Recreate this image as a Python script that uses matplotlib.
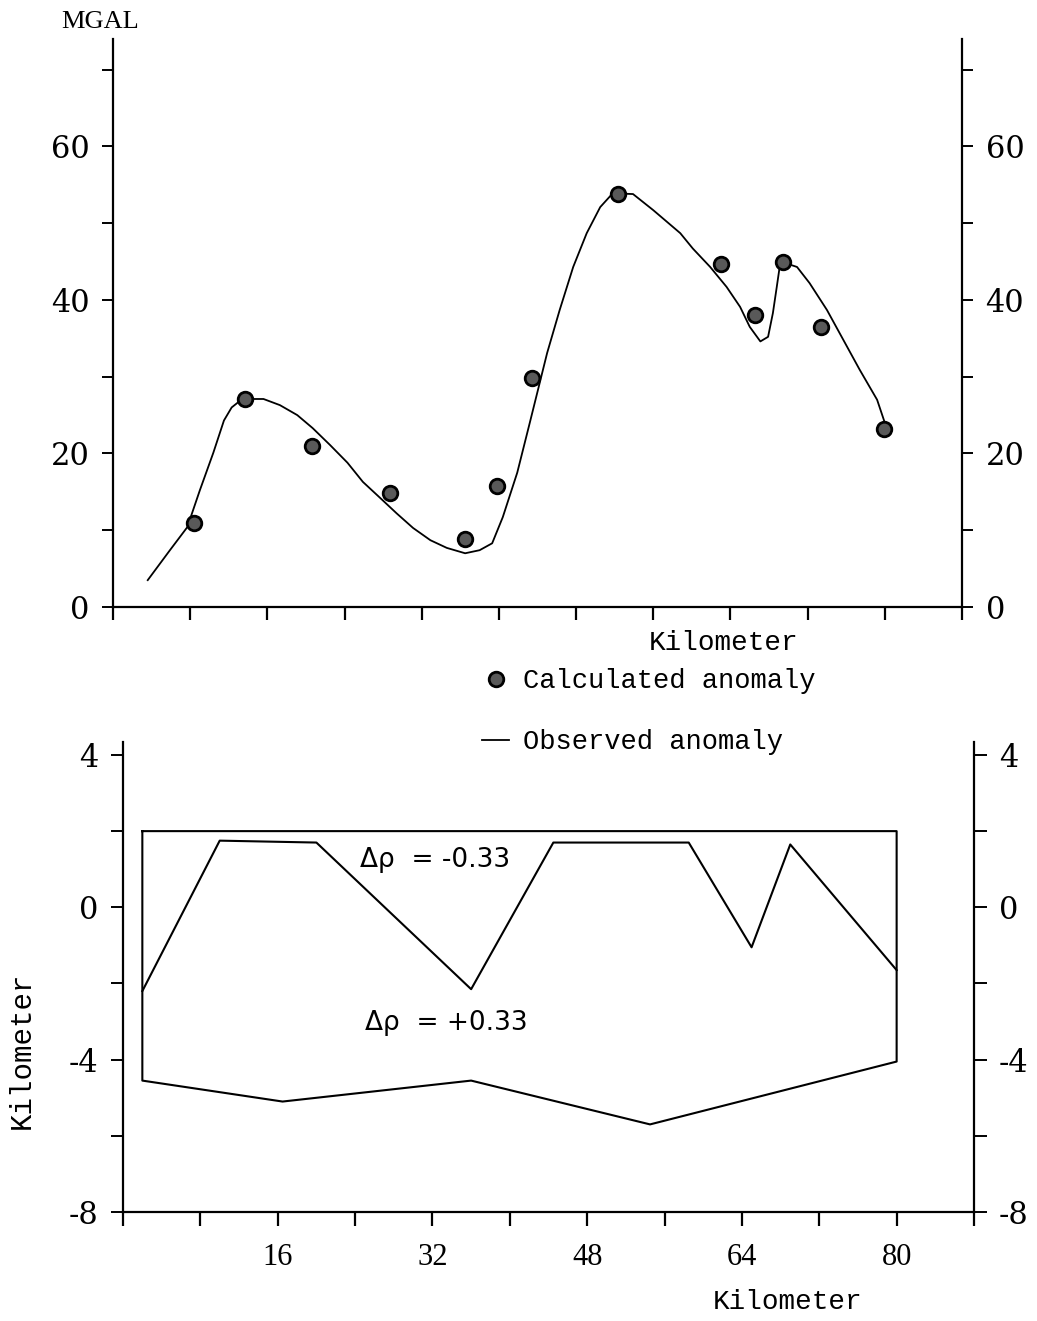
import matplotlib.pyplot as plt
from matplotlib.ticker import MultipleLocator

plt.rcParams["font.family"] = ["DejaVu Serif"]
plt.rcParams["axes.unicode_minus"] = False

# upper panel: gravity anomaly profile (mGal vs km)
calc_km = [8.4, 13.7, 20.6, 28.7, 36.5, 39.8, 43.4, 52.3, 63.0, 66.5, 69.4, 73.4, 79.9]
calc_mgal = [10.9, 27.1, 21.0, 14.8, 8.9, 15.8, 29.8, 53.8, 44.7, 38.0, 44.9, 36.5, 23.2]

obs_km = [3.6, 5.9, 7.7, 9.0, 10.4, 11.5, 12.3, 13.1, 13.9, 15.6, 17.3, 19.1, 20.7,
          22.5, 24.3, 25.9, 27.7, 29.4, 31.1, 32.9, 34.6, 36.5, 38.0, 39.3,
          40.4, 41.9, 43.2, 45.0, 46.3, 47.7, 49.1, 50.5, 51.8, 53.9, 56.0,
          58.8, 60.1, 61.9, 63.6, 65.0, 66.0, 67.1, 67.9, 68.4, 68.8, 69.1,
          69.7, 70.9, 72.2, 74.0, 75.7, 77.4, 79.2, 80.0]
obs_mgal = [3.5, 7.4, 10.4, 15.2, 20.1, 24.3, 26.0, 26.8, 27.1, 27.1, 26.3, 25.0, 23.3,
            21.1, 18.8, 16.3, 14.2, 12.2, 10.3, 8.7, 7.7, 7.0, 7.4, 8.3,
            11.7, 17.5, 24.0, 33.1, 38.7, 44.3, 48.7, 52.1, 53.9, 53.8, 51.7,
            48.7, 46.7, 44.3, 41.7, 39.1, 36.5, 34.6, 35.2, 38.3, 41.7, 44.3,
            44.8, 44.3, 42.2, 38.7, 34.8, 30.9, 27.0, 24.0]

# lower panel: density model (depth in km)
top_km = [2, 80]
top_depth = [2, 2]
boundary_km = [2, 10, 20, 36, 44.5, 58.5, 65, 69, 80]
boundary_depth = [-2.2, 1.75, 1.7, -2.15, 1.7, 1.7, -1.05, 1.65, -1.65]
base_km = [2, 16.5, 36, 54.5, 80]
base_depth = [-4.55, -5.1, -4.55, -5.7, -4.05]

xticks = list(range(0, 89, 8))
xtick_labels = ["", "", "16", "", "32", "", "48", "", "64", "", "80", ""]

W, H = 1037, 1321
fig = plt.figure(figsize=(W / 100, H / 100), dpi=100)

mono = "Liberation Mono"

# ---- top panel ----
ax1 = fig.add_axes([113 / W, 1 - 607 / H, 849 / W, (607 - 39) / H])
ax1.plot(obs_km, obs_mgal, color="black", lw=1.3, label="Observed anomaly")
ax1.plot(calc_km, calc_mgal, "o", ms=10.5, mfc="#595959", mec="black", mew=2,
         label="Calculated anomaly")
ax1.set_xlim(0, 88)
ax1.set_ylim(0, 74)
ax1.xaxis.set_major_locator(MultipleLocator(8))
ax1.xaxis.set_ticklabels([])
ax1.yaxis.set_major_locator(MultipleLocator(20))
ax1.yaxis.set_minor_locator(MultipleLocator(10))
ax1.spines["top"].set_visible(False)
for s in ["left", "right", "bottom"]:
    ax1.spines[s].set_linewidth(1.6)
ax1.tick_params(axis="x", direction="out", length=9, width=1.6)
ax1.tick_params(axis="y", which="both", direction="out", length=8, width=1.4,
                right=True, labelright=True, labelsize=22, pad=9)

handles, labels = ax1.get_legend_handles_labels()
fig.legend(handles[::-1], labels[::-1], loc="upper left",
           bbox_to_anchor=(482 / W, 1 - 668 / H),
           frameon=False, handlelength=1.0, handletextpad=0.5, borderpad=0,
           borderaxespad=0, labelspacing=1.3, prop={"family": mono, "size": 19.5})

fig.text(724 / W, 1 - 643 / H, "Kilometer", family=mono, size=20,
         ha="center", va="center")
fig.text(100 / W, 1 - 22 / H, "MGAL", family="Liberation Serif", size=19,
         ha="center", va="center")

# ---- bottom panel ----
ax2 = fig.add_axes([123 / W, 1 - 1212 / H, 851 / W, (1212 - 742) / H])
ax2.patch.set_visible(False)
body_x = top_km + base_km[::-1] + [top_km[0]]
body_y = top_depth + base_depth[::-1] + [top_depth[0]]
ax2.plot(body_x, body_y, color="black", lw=1.5)
ax2.plot(boundary_km, boundary_depth, color="black", lw=1.5)
ax2.set_xlim(0, 88)
ax2.set_ylim(-8, 4.34)
ax2.set_xticks(xticks)
ax2.set_xticklabels(xtick_labels, family="Liberation Serif", size=22)
ax2.yaxis.set_major_locator(MultipleLocator(4))
ax2.yaxis.set_minor_locator(MultipleLocator(2))
ax2.spines["top"].set_visible(False)
for s in ["left", "right", "bottom"]:
    ax2.spines[s].set_linewidth(1.6)
ax2.tick_params(axis="x", direction="out", length=10, width=1.6, pad=12)
ax2.tick_params(axis="y", which="both", direction="out", length=9, width=1.4,
                right=True, labelright=True, labelsize=22, pad=9)

ax2.text(24.5, 1.25, "Δρ  = -0.33", family="DejaVu Sans", size=19, va="center")
ax2.text(25.0, -3.05, "Δρ  = +0.33", family="DejaVu Sans", size=19, va="center")

fig.text(788 / W, 1 - 1302 / H, "Kilometer", family=mono, size=20,
         ha="center", va="center")
fig.text(22 / W, 1 - 1050 / H, "Kilometer", family=mono, size=21,
         ha="center", va="center", rotation=90)

fig.savefig("out.png", dpi=100)
